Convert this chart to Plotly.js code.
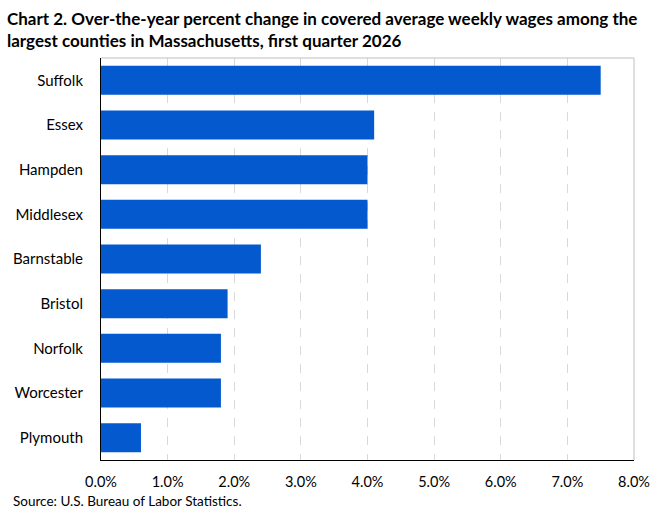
<!DOCTYPE html>
<html>
<head>
<meta charset="utf-8">
<script src="https://cdn.plot.ly/plotly-3.0.1.min.js"></script>
<style>
  body { margin: 0; background: #fff; }
  #chart { width: 660px; height: 510px; }
</style>
</head>
<body>
<div id="chart"></div>
<script>
const counties = ["Suffolk", "Essex", "Hampden", "Middlesex", "Barnstable", "Bristol", "Norfolk", "Worcester", "Plymouth"];
const pctChange = [7.5, 4.1, 4.0, 4.0, 2.4, 1.9, 1.8, 1.8, 0.6];
const xTicks = [0, 1, 2, 3, 4, 5, 6, 7, 8];

const FONT = "Lato, Liberation Sans, Arial, sans-serif";

const trace = {
    type: "bar",
    orientation: "h",
    x: pctChange,
    y: counties,
    marker: {color: "#0459CE"},
    hovertemplate: "%{y}: %{x:.1f}%<extra></extra>"
};

const layout = {
    width: 660,
    height: 510,
    margin: {l: 101, r: 26, t: 58, b: 50},
    paper_bgcolor: "#fff",
    plot_bgcolor: "#fff",
    bargap: 0.35,
    showlegend: false,
    xaxis: {
        range: [0, 8],
        tickvals: xTicks,
        ticktext: xTicks.map(v => v.toFixed(1) + "%"),
        tickfont: {size: 14.5, family: FONT, color: "#000"},
        showgrid: true,
        gridcolor: "#d9d9d9",
        griddash: "dash",
        gridwidth: 1,
        zeroline: false,
        showline: true,
        linecolor: "#000",
        linewidth: 1,
        ticks: "",
        ticklabelstandoff: 9,
        fixedrange: true
    },
    yaxis: {
        autorange: "reversed",
        tickfont: {size: 15, family: FONT, color: "#000"},
        showline: true,
        linecolor: "#000",
        linewidth: 1,
        ticks: "",
        ticklabelstandoff: 14,
        fixedrange: true
    },
    shapes: [
        // light frame on the top and right sides
        {type: "line", xref: "paper", yref: "paper", x0: 0, x1: 1, y0: 1, y1: 1, line: {color: "#bfbfbf", width: 1}},
        {type: "line", xref: "paper", yref: "paper", x0: 1, x1: 1, y0: 0, y1: 1, line: {color: "#bfbfbf", width: 1}}
    ],
    annotations: [
        {
            text: "<b>Chart 2. Over-the-year percent change in covered average weekly wages among the<br>largest counties in Massachusetts, first quarter 2026</b>",
            xref: "paper", yref: "paper",
            x: -0.180, y: 1.13,
            xanchor: "left", yanchor: "top", align: "left",
            showarrow: false,
            font: {size: 17, family: FONT, color: "#000"}
        },
        {
            text: "Source: U.S. Bureau of Labor Statistics.",
            xref: "paper", yref: "paper",
            x: -0.168, y: -0.102,
            xanchor: "left", yanchor: "middle",
            showarrow: false,
            font: {size: 13.5, family: FONT, color: "#000"}
        }
    ]
};

Plotly.newPlot("chart", [trace], layout, {displayModeBar: false, staticPlot: true});
</script>
</body>
</html>
